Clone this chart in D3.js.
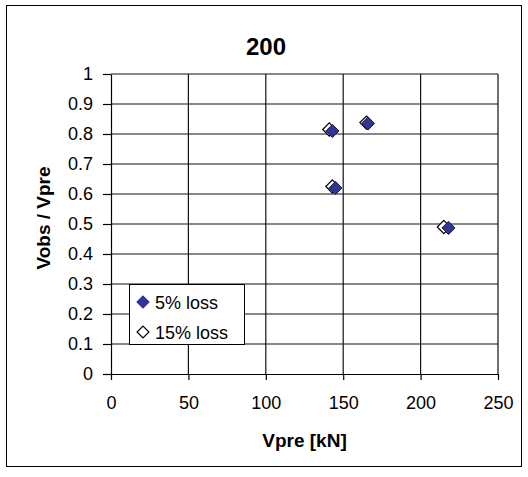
<!DOCTYPE html>
<html>
<head>
<meta charset="utf-8">
<script src="https://cdn.jsdelivr.net/npm/d3@7"></script>
<style>
  html, body { margin: 0; padding: 0; background: #fff; }
  svg { display: block; font-family: Arial, "Liberation Sans", sans-serif; }
</style>
</head>
<body>
<svg id="chart" width="528" height="477"></svg>
<script>
// Series: shear ratio Vobs/Vpre against predicted shear Vpre [kN]
const loss5Vpre = [143, 166, 145, 218];
const loss5Ratio = [0.81, 0.835, 0.62, 0.487];
const loss15Vpre = [141, 165, 143, 215];
const loss15Ratio = [0.815, 0.838, 0.625, 0.49];

const xTicks = [0, 50, 100, 150, 200, 250];
const yTicks = [0, 0.1, 0.2, 0.3, 0.4, 0.5, 0.6, 0.7, 0.8, 0.9, 1];
const seriesNames = ["5% loss", "15% loss"];
const titleText = "200";
const xTitle = "Vpre [kN]";
const yTitle = "Vobs / Vpre";

const svg = d3.select("#chart");

// outer chart frame
svg.append("rect")
  .attr("x", 6.5).attr("y", 5.5)
  .attr("width", 515).attr("height", 461)
  .attr("fill", "#fff").attr("stroke", "#000").attr("stroke-width", 1);

const plot = { left: 111, right: 498, top: 74, bottom: 374 };

const x = d3.scaleLinear().domain([0, 250]).range([plot.left, plot.right]);
const y = d3.scaleLinear().domain([0, 1]).range([plot.bottom, plot.top]);

// gridlines
const grid = svg.append("g").attr("stroke", "#111").attr("stroke-width", 1.2);
grid.selectAll(".gx").data(xTicks.slice(1)).join("line")
  .attr("x1", d => x(d)).attr("x2", d => x(d))
  .attr("y1", plot.top).attr("y2", plot.bottom);
grid.selectAll(".gy").data(yTicks.slice(1)).join("line")
  .attr("x1", plot.left).attr("x2", plot.right)
  .attr("y1", d => y(d)).attr("y2", d => y(d));

// axes
const xAxis = svg.append("g")
  .attr("transform", `translate(0,${plot.bottom})`)
  .call(d3.axisBottom(x).tickValues(xTicks).tickSize(6).tickPadding(16).tickSizeOuter(0));
const yAxis = svg.append("g")
  .attr("transform", `translate(${plot.left},0)`)
  .call(d3.axisLeft(y).tickValues(yTicks).tickFormat(d3.format("~g")).tickSize(8).tickPadding(10).tickSizeOuter(0));

[xAxis, yAxis].forEach(a => {
  a.select(".domain").attr("stroke", "#000").attr("stroke-width", 1.2);
  a.selectAll(".tick line").attr("stroke", "#000").attr("stroke-width", 1.2);
  a.selectAll(".tick text")
    .attr("fill", "#000")
    .style("font-size", "18px")
    .style("font-family", "Arial, 'Liberation Sans', sans-serif");
});

// titles
svg.append("text")
  .attr("x", 266).attr("y", 55)
  .attr("text-anchor", "middle")
  .style("font-size", "24px").style("font-weight", "bold")
  .text(titleText);

svg.append("text")
  .attr("x", (plot.left + plot.right) / 2).attr("y", 447)
  .attr("text-anchor", "middle")
  .style("font-size", "19px").style("font-weight", "bold")
  .text(xTitle);

svg.append("text")
  .attr("transform", `translate(50,${(plot.top + plot.bottom) / 2 - 6}) rotate(-90)`)
  .attr("text-anchor", "middle")
  .style("font-size", "19px").style("font-weight", "bold")
  .text(yTitle);

// markers
const diamond = d3.symbol().type(d3.symbolDiamond2).size(110);

const s15 = loss15Vpre.map((v, i) => [v, loss15Ratio[i]]);
const s5 = loss5Vpre.map((v, i) => [v, loss5Ratio[i]]);

svg.append("g").selectAll("path").data(s15).join("path")
  .attr("d", diamond)
  .attr("transform", d => `translate(${x(d[0])},${y(d[1])})`)
  .attr("fill", "#fff").attr("stroke", "#000").attr("stroke-width", 1.2);

svg.append("g").selectAll("path").data(s5).join("path")
  .attr("d", diamond)
  .attr("transform", d => `translate(${x(d[0])},${y(d[1])})`)
  .attr("fill", "#333399").attr("stroke", "#1a1a40").attr("stroke-width", 1);

// legend
const lg = svg.append("g");
lg.append("rect")
  .attr("x", 129.5).attr("y", 284.5).attr("width", 115).attr("height", 60)
  .attr("fill", "#fff").attr("stroke", "#000").attr("stroke-width", 1);
const legendY = [302, 332];
seriesNames.forEach((name, i) => {
  lg.append("path")
    .attr("d", d3.symbol().type(d3.symbolDiamond2).size(90))
    .attr("transform", `translate(143,${legendY[i]})`)
    .attr("fill", i === 0 ? "#333399" : "#fff")
    .attr("stroke", i === 0 ? "#333399" : "#000")
    .attr("stroke-width", 1.2);
  lg.append("text")
    .attr("x", 155).attr("y", legendY[i] + 6.5)
    .style("font-size", "18px")
    .text(name);
});
</script>
</body>
</html>
